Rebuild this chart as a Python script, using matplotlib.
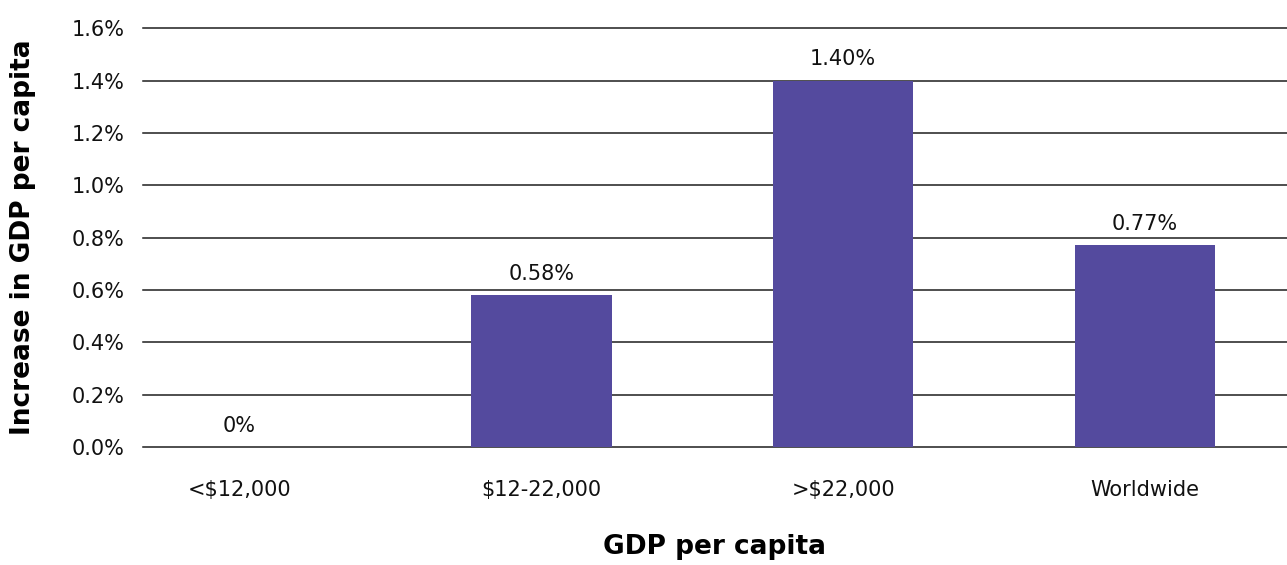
import matplotlib.pyplot as plt
import numpy as np

# GDP per capita groups and the increase in GDP per capita (%)
categories = ["<$12,000", "$12-22,000", ">$22,000", "Worldwide"]
increase = [0.0, 0.58, 1.40, 0.77]
labels = ["0%", "0.58%", "1.40%", "0.77%"]
yticks = [0.0, 0.2, 0.4, 0.6, 0.8, 1.0, 1.2, 1.4, 1.6]

plt.rcParams["font.family"] = ["DejaVu Sans"]

fig = plt.figure(figsize=(12.87, 5.65), dpi=100)
ax = fig.add_axes([0.111, 0.209, 0.889, 0.741])

x = np.arange(len(categories))
bars = ax.bar(x, increase, width=0.465, color="#544a9e", zorder=3)

for xi, val, lab in zip(x, increase, labels):
    ax.annotate(lab, (xi, val), xytext=(0, 8), textcoords="offset points",
                ha="center", va="bottom", fontsize=15, color="#111111")

ax.set_xlim(-0.32, 3.47)
ax.set_ylim(0, 1.6)
ax.set_yticks(yticks)
ax.set_yticklabels([f"{v:.1f}%" for v in yticks])
ax.set_xticks(x)
ax.set_xticklabels(categories)

ax.grid(axis="y", color="#1e1e1e", linewidth=1.1, zorder=0)
ax.set_axisbelow(True)
for gl in ax.get_ygridlines():
    gl.set_clip_on(False)
for s in ax.spines.values():
    s.set_visible(False)
ax.tick_params(axis="y", length=0, pad=13, labelsize=15, labelcolor="#111111")
ax.tick_params(axis="x", length=0, pad=24, labelsize=15, labelcolor="#111111")

ax.set_xlabel("GDP per capita", fontsize=19, fontweight="bold", labelpad=24)
ax.set_ylabel("Increase in GDP per capita", fontsize=19, fontweight="bold")
ax.yaxis.set_label_coords(-0.093, 0.5)

fig.savefig("out.png", dpi=100)
